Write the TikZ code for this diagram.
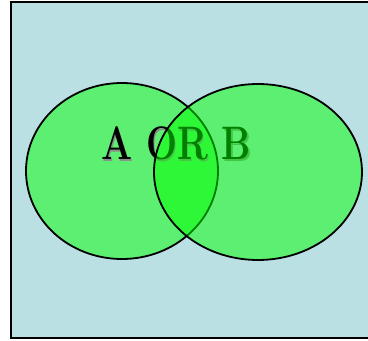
\documentclass[tikz,border=0pt]{standalone}
\usetikzlibrary{shapes.geometric}
\begin{document}
\begin{tikzpicture}[x=1pt,y=1pt,
  setfill/.style={ellipse, draw=black, line width=1.8pt, fill=green, fill opacity=0.5, draw opacity=1, inner sep=0pt},
  lbl/.style={font=\fontsize{47}{50}\selectfont\bfseries, inner sep=0pt, anchor=base, xscale=0.78}]
\useasboundingbox (0,0) rectangle (368,341);
\clip (0,0) rectangle (368,341);
\node[draw=black, line width=2pt, fill={rgb,255:red,187;green,224;blue,227}, minimum width=362pt, minimum height=336pt, inner sep=0pt, anchor=south west] (frame) at (10,1.5) {};
\node[setfill, minimum width=192pt, minimum height=176pt] (setA) at (122,170) {};
\node[lbl, text=black!45] (shadow) at (177.5,179.5) {A OR B};
\node[lbl, text=black] (label) at (176,181) {A OR B};
\node[setfill, minimum width=208pt, minimum height=176pt] (setB) at (258,169) {};
\end{tikzpicture}
\end{document}
